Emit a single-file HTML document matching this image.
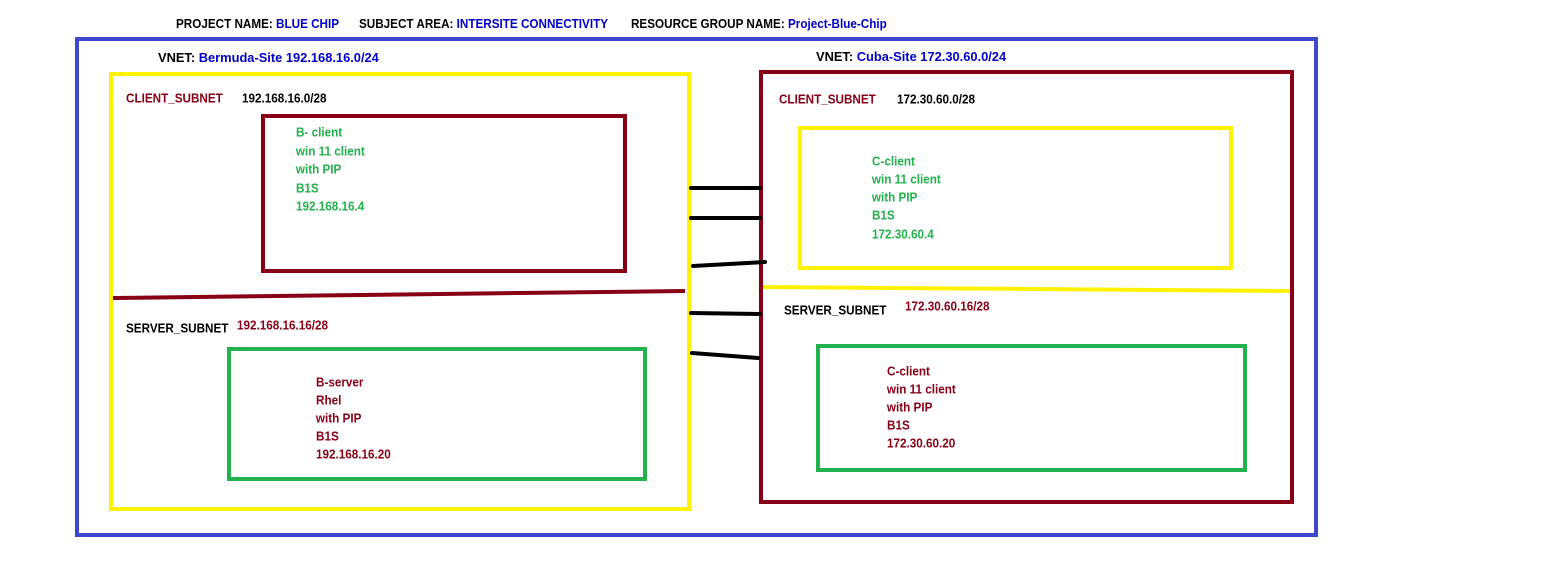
<!DOCTYPE html>
<html><head><meta charset="utf-8"><style>
html,body{margin:0;padding:0;background:#fff;width:1553px;height:588px;overflow:hidden}
text{font-family:"Liberation Sans",sans-serif;font-weight:bold;font-size:13px;dominant-baseline:middle;transform-box:fill-box;transform-origin:left center;transform:scaleX(0.9)}
text.v{transform:scaleX(0.99)}
.k{fill:#000}.b{fill:#0000c8}.m{fill:#880015}.g{fill:#22b14c}
</style></head><body>
<svg width="1553" height="588" xmlns="http://www.w3.org/2000/svg">
<rect x="77" y="39" width="1239" height="496" fill="none" stroke="#3f48cc" stroke-width="4"/>
<rect x="111" y="74" width="578" height="435" fill="none" stroke="#fff200" stroke-width="4"/>
<rect x="263" y="116" width="362" height="155" fill="none" stroke="#880015" stroke-width="4"/>
<rect x="229" y="349" width="416" height="130" fill="none" stroke="#22b14c" stroke-width="4"/>
<rect x="761" y="72" width="531" height="430" fill="none" stroke="#880015" stroke-width="4"/>
<rect x="800" y="128" width="431" height="140" fill="none" stroke="#fff200" stroke-width="4"/>
<rect x="818" y="346" width="427" height="124" fill="none" stroke="#22b14c" stroke-width="4"/>
<line x1="113" y1="298" x2="685" y2="291" stroke="#880015" stroke-width="4"/>
<line x1="763" y1="287" x2="1290" y2="291" stroke="#fff200" stroke-width="4"/>
<g stroke="#000" stroke-width="4" stroke-linecap="round">
<line x1="691" y1="188" x2="760" y2="188"/>
<line x1="691" y1="218" x2="760" y2="218"/>
<line x1="693" y1="266" x2="765" y2="262"/>
<line x1="691" y1="313" x2="760" y2="314"/>
<line x1="692" y1="353" x2="758" y2="358"/>
</g>
<text x="176" y="25"><tspan class="k">PROJECT NAME: </tspan><tspan class="b">BLUE CHIP</tspan></text>
<text x="359" y="25"><tspan class="k">SUBJECT AREA: </tspan><tspan class="b">INTERSITE CONNECTIVITY</tspan></text>
<text x="631" y="25"><tspan class="k">RESOURCE GROUP NAME: </tspan><tspan class="b">Project-Blue-Chip</tspan></text>
<text x="158" y="59" class="v"><tspan class="k">VNET: </tspan><tspan class="b">Bermuda-Site 192.168.16.0/24</tspan></text>
<text x="816" y="58" class="v"><tspan class="k">VNET: </tspan><tspan class="b">Cuba-Site 172.30.60.0/24</tspan></text>
<text x="126" y="99" class="m">CLIENT_SUBNET</text>
<text x="242" y="99" class="k">192.168.16.0/28</text>
<text x="296" y="133" class="g">B- client</text>
<text x="296" y="152" class="g">win 11 client</text>
<text x="296" y="170" class="g">with PIP</text>
<text x="296" y="189" class="g">B1S</text>
<text x="296" y="207" class="g">192.168.16.4</text>
<text x="126" y="329" class="k">SERVER_SUBNET</text>
<text x="237" y="326" class="m">192.168.16.16/28</text>
<text x="316" y="383" class="m">B-server</text>
<text x="316" y="401" class="m">Rhel</text>
<text x="316" y="419" class="m">with PIP</text>
<text x="316" y="437" class="m">B1S</text>
<text x="316" y="455" class="m">192.168.16.20</text>
<text x="779" y="100" class="m">CLIENT_SUBNET</text>
<text x="897" y="100" class="k">172.30.60.0/28</text>
<text x="872" y="162" class="g">C-client</text>
<text x="872" y="180" class="g">win 11 client</text>
<text x="872" y="198" class="g">with PIP</text>
<text x="872" y="216" class="g">B1S</text>
<text x="872" y="235" class="g">172.30.60.4</text>
<text x="784" y="311" class="k">SERVER_SUBNET</text>
<text x="905" y="307" class="m">172.30.60.16/28</text>
<text x="887" y="372" class="m">C-client</text>
<text x="887" y="390" class="m">win 11 client</text>
<text x="887" y="408" class="m">with PIP</text>
<text x="887" y="426" class="m">B1S</text>
<text x="887" y="444" class="m">172.30.60.20</text>
</svg>
</body></html>
